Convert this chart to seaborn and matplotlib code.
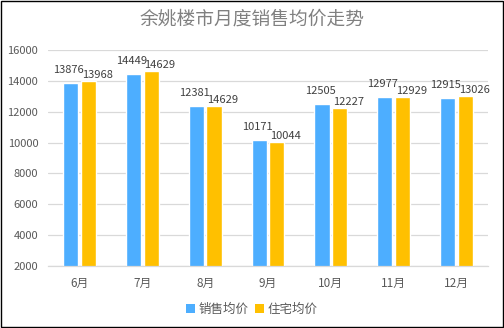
import matplotlib
matplotlib.use("Agg")
import matplotlib.pyplot as plt
import seaborn as sns
import pandas as pd
from matplotlib.patches import Rectangle, Patch

months = ["6月", "7月", "8月", "9月", "10月", "11月", "12月"]
sales_avg = [13876, 14449, 12381, 10171, 12505, 12977, 12915]
# bar heights of the residential series as drawn
resid_avg = [13968, 14629, 12381, 10044, 12227, 12929, 13026]
# data labels as printed on the chart (8月 label differs from the drawn bar)
resid_labels = [13968, 14629, 14629, 10044, 12227, 12929, 13026]
series_names = ["销售均价", "住宅均价"]
colors = ["#4DAEFF", "#FFC000"]
yticks = [2000, 4000, 6000, 8000, 10000, 12000, 14000, 16000]

sns.set_theme(style="white")
plt.rcParams["font.family"] = ["Noto Sans CJK SC", "DejaVu Sans"]

df = pd.DataFrame({
    "month": months * 2,
    "value": sales_avg + resid_avg,
    "series": [series_names[0]] * len(months) + [series_names[1]] * len(months),
})

fig = plt.figure(figsize=(5.04, 3.28), dpi=100)
ax = fig.add_axes([48 / 504, 1 - 266 / 328, 440 / 504, 216 / 328])

sns.barplot(data=df, x="month", y="value", hue="series", palette=colors,
            width=0.56, gap=0.14, ax=ax, legend=False, saturation=1)

ax.set_ylim(2000, 16000)
ax.set_xlim(-0.5, len(months) - 0.5)
ax.set_yticks(yticks)
ax.set_yticklabels([str(t) for t in yticks])
ax.yaxis.grid(True, color="#D9D9D9", linewidth=0.9)
ax.set_axisbelow(True)
for s in ["top", "right", "left"]:
    ax.spines[s].set_visible(False)
ax.spines["bottom"].set_color("#D9D9D9")
ax.spines["bottom"].set_linewidth(0.9)
ax.set_xlabel("")
ax.set_ylabel("")
ax.tick_params(axis="both", length=0, colors="#595959", labelsize=8)
ax.tick_params(axis="x", pad=8, labelsize=8.5)
ax.tick_params(axis="y", pad=7)

# data labels
for i, (sv, rv, rl) in enumerate(zip(sales_avg, resid_avg, resid_labels)):
    ax.annotate(str(sv), xy=(i - 0.14, sv), xytext=(-2, 13), textcoords="offset pixels",
                ha="center", va="center", fontsize=8, color="#404040")
    ax.annotate(str(rl), xy=(i + 0.14, rv), xytext=(9, 6), textcoords="offset pixels",
                ha="center", va="center", fontsize=8, color="#404040")

handles = [Patch(facecolor=c, edgecolor="none") for c in colors]
fig.legend(handles, series_names, loc="center", bbox_to_anchor=(252 / 504, 1 - 309 / 328),
           ncol=2, frameon=False, fontsize=9, handlelength=0.7, handleheight=0.7,
           handletextpad=0.3, columnspacing=0.5, labelcolor="#595959")

fig.text(0.5, 1 - 19 / 328, "余姚楼市月度销售均价走势", ha="center", va="center",
         fontsize=13.5, color="#808080")

fig.patches.append(Rectangle((0.001, 0.002), 0.997, 0.995, transform=fig.transFigure,
                             fill=False, edgecolor="black", linewidth=1.0))

fig.savefig("out.png", dpi=100)
